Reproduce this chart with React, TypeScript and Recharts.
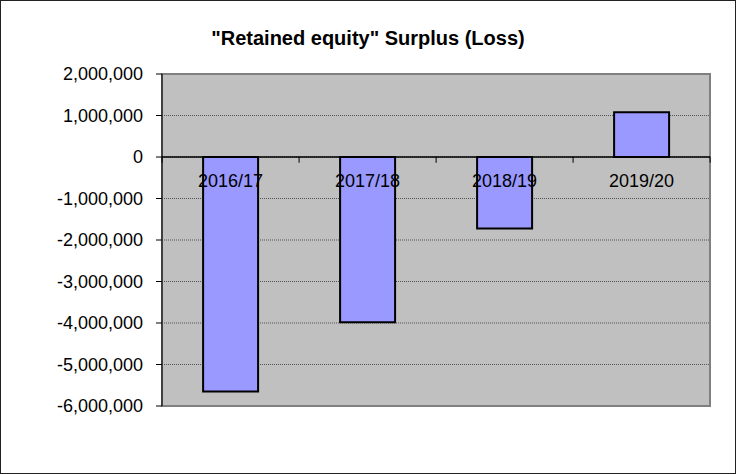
import React from 'react';
import {
  BarChart,
  Bar,
  XAxis,
  YAxis,
  CartesianGrid,
  ReferenceLine,
  ReferenceArea,
  LabelList,
} from 'recharts';

const categories = ['2016/17', '2017/18', '2018/19', '2019/20'];
const surplus = [-5650000, -3980000, -1720000, 1080000];
const yTicks = [2000000, 1000000, 0, -1000000, -2000000, -3000000, -4000000, -5000000, -6000000];

const data = categories.map((name, i) => ({ name, value: surplus[i] }));

const W = 736;
const H = 474;
const margin = { top: 74, right: 26, bottom: 68, left: 0 };
const yAxisWidth = 162;
const plotW = W - margin.left - margin.right - yAxisWidth;
const plotH = H - margin.top - margin.bottom - 1;
const yMax = yTicks[0];
const yMin = yTicks[yTicks.length - 1];
const zeroY = margin.top + (plotH * yMax) / (yMax - yMin);
const band = plotW / categories.length;

const font = '"Liberation Sans", Arial, sans-serif';

const fmt = (v: number) => v.toLocaleString('en-US');

// category labels sit under the zero line, Excel style, with ticks between categories
const CategoryLabel = (props: any) => {
  const { x, width, value, index } = props;
  const cx = x + width / 2;
  const left = cx - band / 2;
  const right = cx + band / 2;
  return (
    <g>
      <line x1={left} y1={zeroY} x2={left} y2={zeroY + 6} stroke="#000" />
      {index === categories.length - 1 && (
        <line x1={right} y1={zeroY} x2={right} y2={zeroY + 6} stroke="#000" />
      )}
      <text
        x={cx}
        y={zeroY + 30}
        textAnchor="middle"
        fontSize={18}
        fontFamily={font}
        fill="#000"
      >
        {value}
      </text>
    </g>
  );
};

export default function App() {
  return (
    <div
      style={{
        position: 'fixed',
        left: 0,
        top: 0,
        width: W,
        height: H,
        background: '#fff',
      }}
    >
      <div
        style={{
          position: 'absolute',
          left: 0,
          top: 27,
          width: W,
          textAlign: 'center',
          fontFamily: font,
          fontWeight: 'bold',
          fontSize: 20,
          color: '#000',
        }}
      >
        "Retained equity" Surplus (Loss)
      </div>
      <BarChart
        width={W}
        height={H}
        data={data}
        margin={margin}
        barCategoryGap="30%"
        style={{ position: 'absolute', left: 0, top: 0 }}
      >
        <CartesianGrid
          vertical={false}
          fill="#C0C0C0"
          stroke="#555"
          strokeDasharray="1 1"
        />
        <ReferenceArea
          y1={yMin}
          y2={yMax}
          fill="none"
          stroke="#808080"
          strokeWidth={2}
        />
        <XAxis dataKey="name" height={1} hide />
        <YAxis
          width={yAxisWidth}
          domain={[yMin, yMax]}
          ticks={yTicks}
          interval={0}
          tickFormatter={fmt}
          axisLine={{ stroke: '#000' }}
          tickLine={{ stroke: '#000' }}
          tickSize={6}
          tickMargin={13}
          tick={{ fontSize: 18, fontFamily: font, fill: '#000' }}
        />
        <ReferenceLine y={0} stroke="#000" strokeWidth={1.5} />
        <Bar
          dataKey="value"
          fill="#9999FF"
          stroke="#000"
          strokeWidth={2}
          isAnimationActive={false}
        >
          <LabelList dataKey="name" content={<CategoryLabel />} />
        </Bar>
      </BarChart>
      <div
        style={{
          position: 'absolute',
          left: 0,
          top: 0,
          width: W,
          height: H,
          boxSizing: 'border-box',
          border: '1px solid #222',
          pointerEvents: 'none',
        }}
      />
    </div>
  );
}
